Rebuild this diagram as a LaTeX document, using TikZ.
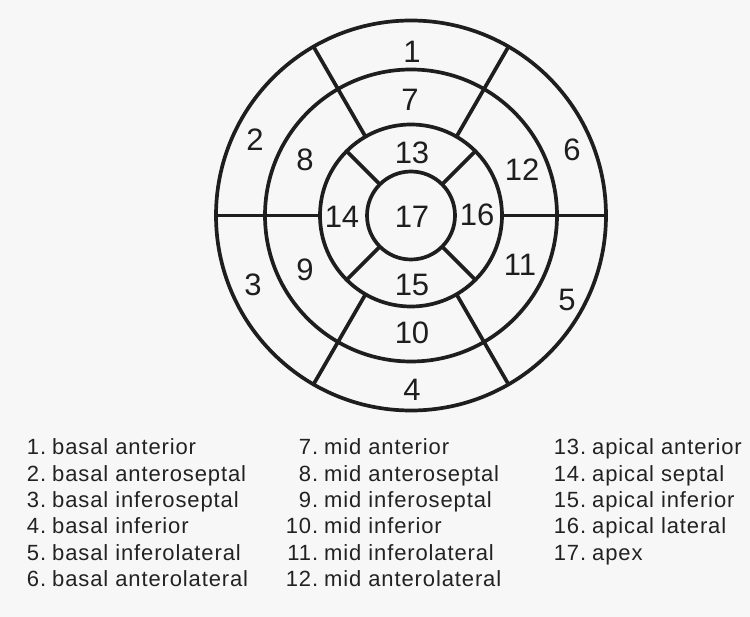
\documentclass[tikz,border=0pt]{standalone}
\usepackage{fontspec}
\setmainfont{Liberation Sans}
\newfontfamily\legendfont[LetterSpace=4]{Liberation Sans}
\definecolor{ink}{HTML}{1E1E1E}
\definecolor{legink}{HTML}{222222}
\definecolor{paper}{HTML}{F7F7F7}
\begin{document}
\begin{tikzpicture}[x=1pt,y=-1pt,
  ring/.style={line width=3.7pt, draw=ink},
  seg/.style={font=\fontsize{31}{31}\selectfont, text=ink, inner sep=0pt},
  leg/.style={font=\legendfont\fontsize{22}{22}\selectfont, text=legink, anchor=base west, inner sep=0pt}]
\fill[paper] (0,0) rectangle (750,617);
\useasboundingbox (0,0) rectangle (750,617);
\coordinate (c) at (411,215.5);
% rings
\foreach \r in {195,146,91,44} \draw[ring] (c) circle[radius=\r pt];
% dividers of basal and mid rings
\foreach \a in {0,60,120,180,240,300}
  \draw[ring] ([shift={(\a:91)}]c) -- ([shift={(\a:195)}]c);
% dividers of apical ring
\foreach \a in {45,135,225,315}
  \draw[ring] ([shift={(\a:44)}]c) -- ([shift={(\a:91)}]c);
% segment numbers
\node[seg] (s1) at (412,52) {1};
\node[seg] (s2) at (255,140) {2};
\node[seg] (s3) at (253,285) {3};
\node[seg] (s4) at (412,390) {4};
\node[seg] (s5) at (567,300) {5};
\node[seg] (s6) at (572,150) {6};
\node[seg] (s7) at (410,100) {7};
\node[seg] (s8) at (305,160) {8};
\node[seg] (s9) at (305,270) {9};
\node[seg] (s10) at (412,333) {10};
\node[seg] (s11) at (520,265) {11};
\node[seg] (s12) at (522,170) {12};
\node[seg] (s13) at (412,153) {13};
\node[seg] (s14) at (342,217) {14};
\node[seg] (s15) at (412,285) {15};
\node[seg] (s16) at (477,215) {16};
\node[seg] (s17) at (412,217) {17};
% legend
\node[leg] (l1) at (52,455) {\llap{1.\hspace{6pt}}basal anterior};
\node[leg] (l2) at (52,481.3) {\llap{2.\hspace{6pt}}basal anteroseptal};
\node[leg] (l3) at (52,507.6) {\llap{3.\hspace{6pt}}basal inferoseptal};
\node[leg] (l4) at (52,533.9) {\llap{4.\hspace{6pt}}basal inferior};
\node[leg] (l5) at (52,560.2) {\llap{5.\hspace{6pt}}basal inferolateral};
\node[leg] (l6) at (52,586.5) {\llap{6.\hspace{6pt}}basal anterolateral};
\node[leg] (l7) at (324,455) {\llap{7.\hspace{6pt}}mid anterior};
\node[leg] (l8) at (324,481.3) {\llap{8.\hspace{6pt}}mid anteroseptal};
\node[leg] (l9) at (324,507.6) {\llap{9.\hspace{6pt}}mid inferoseptal};
\node[leg] (l10) at (324,533.9) {\llap{10.\hspace{6pt}}mid inferior};
\node[leg] (l11) at (324,560.2) {\llap{11.\hspace{6pt}}mid inferolateral};
\node[leg] (l12) at (324,586.5) {\llap{12.\hspace{6pt}}mid anterolateral};
\node[leg] (l13) at (592,455) {\llap{13.\hspace{6pt}}apical anterior};
\node[leg] (l14) at (592,481.3) {\llap{14.\hspace{6pt}}apical septal};
\node[leg] (l15) at (592,507.6) {\llap{15.\hspace{6pt}}apical inferior};
\node[leg] (l16) at (592,533.9) {\llap{16.\hspace{6pt}}apical lateral};
\node[leg] (l17) at (592,560.2) {\llap{17.\hspace{6pt}}apex};
\end{tikzpicture}
\end{document}
